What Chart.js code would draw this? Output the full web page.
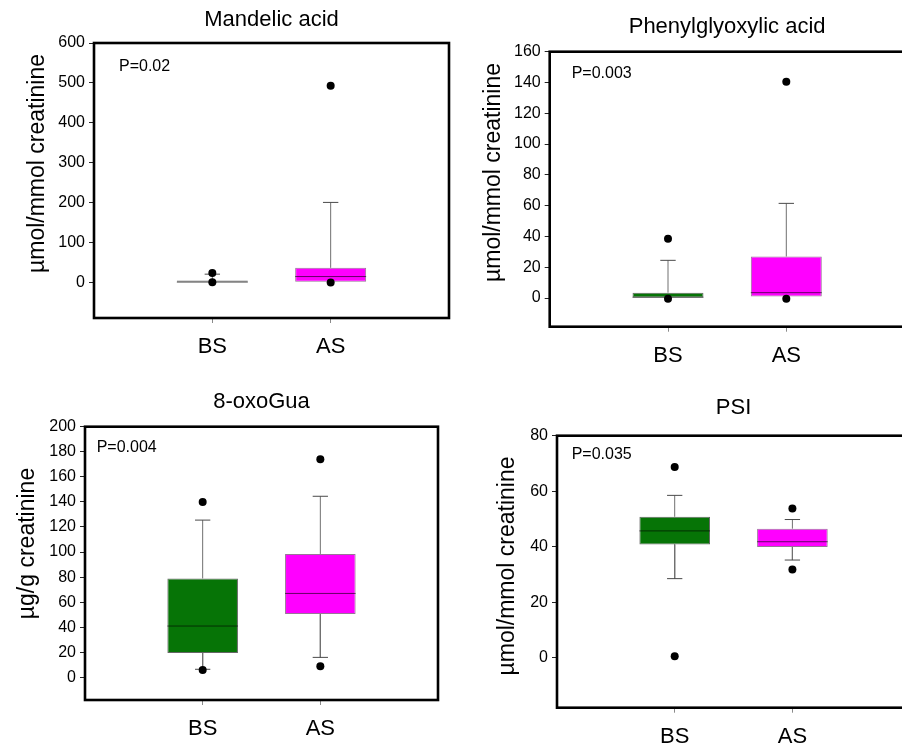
<!DOCTYPE html>
<html>
<head>
<meta charset="utf-8">
<script src="https://cdn.jsdelivr.net/npm/chart.js@4.4.1/dist/chart.umd.min.js"></script>
<style>
  html, body { margin: 0; padding: 0; background: #fff; overflow: hidden; }
  body { width: 902px; height: 749px; position: relative; }
  canvas { position: absolute; }
</style>
</head>
<body>
<canvas id="mandelic" style="left:0;top:0" width="451" height="375"></canvas>
<canvas id="phenyl" style="left:451px;top:0" width="460" height="375"></canvas>
<canvas id="oxogua" style="left:0;top:375px" width="451" height="374"></canvas>
<canvas id="psi" style="left:451px;top:375px" width="462" height="374"></canvas>
<script>
const groups = ['BS', 'AS'];
const groupPos = [1, 2];

// Mandelic acid, µmol/mmol creatinine
const mandelicTicks = [0, 100, 200, 300, 400, 500, 600];
const mandelicLow = [null, null];
const mandelicQ1 = [0, 0];
const mandelicMedian = [0, 14];
const mandelicQ3 = [4, 36];
const mandelicHigh = [20, 200];
const mandelicOutliers = [[23, 0], [493, -1]];

// Phenylglyoxylic acid, µmol/mmol creatinine
const phenylTicks = [0, 20, 40, 60, 80, 100, 120, 140, 160];
const phenylLow = [null, null];
const phenylQ1 = [0, 1];
const phenylMedian = [0.5, 3.5];
const phenylQ3 = [3.5, 27];
const phenylHigh = [24.5, 61.5];
const phenylOutliers = [[38.5, -0.5], [140.5, -0.5]];

// 8-oxoGua, µg/g creatinine
const oxoTicks = [0, 20, 40, 60, 80, 100, 120, 140, 160, 180, 200];
const oxoLow = [6.5, 16];
const oxoQ1 = [19.5, 50.5];
const oxoMedian = [41, 67];
const oxoQ3 = [79, 98.5];
const oxoHigh = [125.5, 144.5];
const oxoOutliers = [[140, 6], [174, 9]];

// PSI, µmol/mmol creatinine
const psiTicks = [0, 20, 40, 60, 80];
const psiLow = [28.5, 35.2];
const psiQ1 = [40.8, 39.9];
const psiMedian = [45.7, 41.8];
const psiQ3 = [50.8, 46.5];
const psiHigh = [58.5, 49.8];
const psiOutliers = [[68.7, 0.5], [53.8, 31.8]];

const GREEN = '#067406';
const MAGENTA = '#ff00ff';
const CAP = 0.065;      // half width of whisker caps, x units
const HALF_BOX = 0.3;   // half width of a box, x units
const FONT = '"Liberation Sans", Arial, Helvetica, sans-serif';

Chart.defaults.font.family = FONT;
Chart.defaults.color = '#000';

function buildDatasets(low, q1, median, q3, high, outliers) {
  const whiskers = [], caps = [], medians = [], dots = [];
  const gap = (x) => ({ x, y: null });
  groupPos.forEach((x, i) => {
    if (high[i] != null) {
      whiskers.push({ x, y: q3[i] }, { x, y: high[i] }, gap(x));
      caps.push({ x: x - CAP, y: high[i] }, { x: x + CAP, y: high[i] }, gap(x));
    }
    if (low[i] != null) {
      whiskers.push({ x, y: q1[i] }, { x, y: low[i] }, gap(x));
      caps.push({ x: x - CAP, y: low[i] }, { x: x + CAP, y: low[i] }, gap(x));
    }
    medians.push({ x: x - HALF_BOX, y: median[i] }, { x: x + HALF_BOX, y: median[i] }, gap(x));
    outliers[i].forEach(v => dots.push({ x, y: v }));
  });
  return [
    {
      type: 'line', data: whiskers, borderColor: '#707070', borderWidth: 1,
      pointRadius: 0, spanGaps: false, order: 4
    },
    {
      type: 'line', data: caps, borderColor: '#4a4a4a', borderWidth: 1,
      pointRadius: 0, spanGaps: false, order: 3
    },
    {
      type: 'bar',
      data: groupPos.map((x, i) => ({ x, y: [q1[i], q3[i]] })),
      backgroundColor: [GREEN, MAGENTA],
      borderColor: ['rgba(0,0,0,0.6)', 'rgba(70,0,70,0.55)'],
      borderWidth: 1, borderSkipped: false,
      barPercentage: 0.75, categoryPercentage: 0.8, order: 2
    },
    {
      type: 'line', data: medians, borderColor: 'rgba(0,0,0,0.6)', borderWidth: 1,
      pointRadius: 0, spanGaps: false, order: 1
    },
    {
      type: 'scatter', data: dots, pointRadius: 4, pointBorderWidth: 0,
      pointBackgroundColor: '#000', order: 0
    }
  ];
}

// black frame round the plot area
const framePlugin = {
  id: 'frame',
  afterDraw(chart) {
    const { ctx, chartArea: a } = chart;
    ctx.save();
    ctx.strokeStyle = '#000';
    ctx.lineWidth = 2.6;
    ctx.strokeRect(a.left, a.top, a.right - a.left, a.bottom - a.top);
    ctx.restore();
  }
};

// rotated y title and the P value note
const panelTextPlugin = {
  id: 'panelText',
  afterDraw(chart, args, opts) {
    const { ctx, chartArea: a } = chart;
    ctx.save();
    ctx.fillStyle = '#000';
    ctx.font = '23px ' + FONT;
    ctx.textAlign = 'center';
    ctx.textBaseline = 'middle';
    ctx.translate(opts.yTitleX, opts.yTitleY);
    ctx.rotate(-Math.PI / 2);
    ctx.fillText(opts.yTitle, 0, 0);
    ctx.restore();

    ctx.save();
    ctx.fillStyle = '#000';
    ctx.font = '16px ' + FONT;
    ctx.textAlign = 'left';
    ctx.textBaseline = 'middle';
    ctx.fillText(opts.pText, a.left + opts.pDx, a.top + opts.pDy);
    ctx.restore();
  }
};

const panels = [
  {
    id: 'mandelic', title: 'Mandelic acid', yTitle: 'µmol/mmol creatinine', pText: 'P=0.02',
    ticks: mandelicTicks, yMin: -90, yMax: 600,
    data: [mandelicLow, mandelicQ1, mandelicMedian, mandelicQ3, mandelicHigh, mandelicOutliers],
    yWidth: 94, xHeight: 57, padRight: 2, titlePad: { top: 9, bottom: 12 },
    yTitleX: 37.5, yTitleY: 163.5, pDx: 25, pDy: 23.7
  },
  {
    id: 'phenyl', title: 'Phenylglyoxylic acid', yTitle: 'µmol/mmol creatinine', pText: 'P=0.003',
    ticks: phenylTicks, yMin: -18.6, yMax: 160,
    data: [phenylLow, phenylQ1, phenylMedian, phenylQ3, phenylHigh, phenylOutliers],
    yWidth: 98.7, xHeight: 48.3, padRight: 6.4, titlePad: { top: 16, bottom: 13.7 },
    yTitleX: 43, yTitleY: 172.5, pDx: 22, pDy: 22.3
  },
  {
    id: 'oxogua', title: '8-oxoGua', yTitle: 'µg/g creatinine', pText: 'P=0.004',
    ticks: oxoTicks, yMin: -18, yMax: 200,
    data: [oxoLow, oxoQ1, oxoMedian, oxoQ3, oxoHigh, oxoOutliers],
    yWidth: 85, xHeight: 49, padRight: 13, titlePad: { top: 16, bottom: 13.7 },
    yTitleX: 28, yTitleY: 168.5, pDx: 11.7, pDy: 20.6
  },
  {
    id: 'psi', title: 'PSI', yTitle: 'µmol/mmol creatinine', pText: 'P=0.035',
    ticks: psiTicks, yMin: -18, yMax: 80,
    data: [psiLow, psiQ1, psiMedian, psiQ3, psiHigh, psiOutliers],
    yWidth: 106, xHeight: 41.3, padRight: 2.9, titlePad: { top: 22, bottom: 16.7 },
    yTitleX: 57, yTitleY: 191, pDx: 14.7, pDy: 19.3
  }
];

panels.forEach(p => {
  new Chart(document.getElementById(p.id), {
    type: 'bar',
    data: { datasets: buildDatasets(...p.data) },
    plugins: [framePlugin, panelTextPlugin],
    options: {
      responsive: false,
      animation: false,
      layout: { autoPadding: false, padding: { left: 0, right: p.padRight, top: 0, bottom: 0 } },
      plugins: {
        legend: { display: false },
        tooltip: { enabled: false },
        title: {
          display: true, text: p.title, fullSize: false, color: '#000',
          font: { size: 22, weight: 'normal', lineHeight: 1 },
          padding: p.titlePad
        },
        panelText: {
          yTitle: p.yTitle, yTitleX: p.yTitleX, yTitleY: p.yTitleY,
          pText: p.pText, pDx: p.pDx, pDy: p.pDy
        }
      },
      scales: {
        x: {
          type: 'linear', min: 0, max: 3, offset: false,
          afterBuildTicks: s => { s.ticks = groupPos.map(v => ({ value: v })); },
          afterFit: s => { s.height = p.xHeight; },
          ticks: {
            font: { size: 22, lineHeight: 1 }, padding: 13, color: '#000',
            maxRotation: 0, autoSkip: false,
            callback: v => groups[groupPos.indexOf(v)] ?? ''
          },
          grid: { offset: false, drawOnChartArea: false, tickLength: 5, color: '#8a8a8a' },
          border: { display: false }
        },
        y: {
          type: 'linear', min: p.yMin, max: p.yMax, beginAtZero: false,
          afterBuildTicks: s => { s.ticks = p.ticks.map(v => ({ value: v })); },
          afterFit: s => { s.width = p.yWidth; },
          ticks: { font: { size: 16 }, padding: 4, color: '#000' },
          grid: { drawOnChartArea: false, tickLength: 5, color: '#222' },
          border: { display: false }
        }
      }
    }
  });
});
</script>
</body>
</html>
